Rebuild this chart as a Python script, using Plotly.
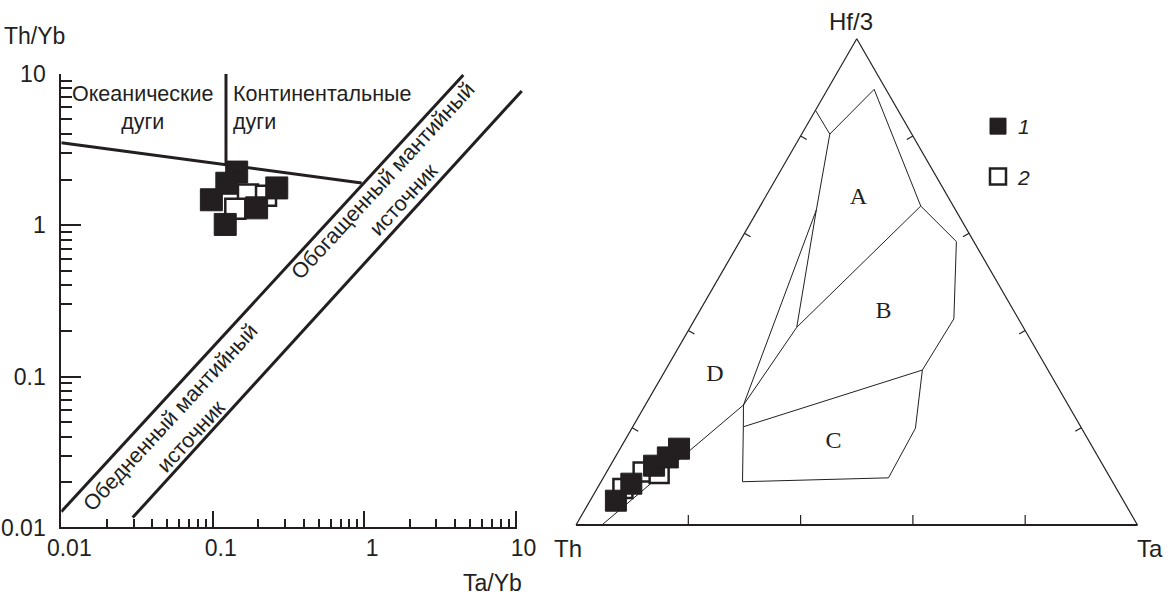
import math
import plotly.graph_objects as go

W, H = 1168, 598
INK = "#231f20"
SANS = "Liberation Sans, Arial, sans-serif"
SERIF = "Liberation Serif, Times New Roman, serif"

# ---------------- Left panel: Th/Yb vs Ta/Yb ----------------
group1_ta_yb = [0.144, 0.124, 0.098, 0.265, 0.195, 0.121]
group1_th_yb = [2.24, 1.89, 1.47, 1.76, 1.30, 1.01]
group2_ta_yb = [0.171, 0.141, 0.225]
group2_th_yb = [1.59, 1.28, 1.56]

arc_divider_x = [0.01, 0.964]
arc_divider_y = [3.5, 1.9]
arc_split_x = [0.1224, 0.1224]
arc_split_y = [10, 2.5]
depleted_x = [0.01, 4.52]
depleted_y = [0.0128, 9.8]
enriched_x = [0.0296, 11.0]
enriched_y = [0.0117, 7.7]

log_ticks = [0.01, 0.1, 1, 10]
log_tick_text = ["0.01", "0.1", "1", "10"]
minor_ticks = [m * d for d in log_ticks[:-1] for m in range(2, 10)]

ocean_label_pos = (0.0346, 5.98)
cont_label_pos = (0.132, 5.98)
depleted_label_pos = (0.0616, 0.0464)
enriched_label_pos = (1.57, 1.70)

# ---------------- Right panel: ternary Hf/3 - Th - Ta ----------------
group1_hf3 = [0.050, 0.085, 0.122, 0.139, 0.157]
group1_th = [0.904, 0.859, 0.800, 0.767, 0.738]
group1_ta = [0.046, 0.056, 0.078, 0.094, 0.105]
group2_hf3 = [0.075, 0.109, 0.106]
group2_th = [0.879, 0.826, 0.799]
group2_ta = [0.046, 0.065, 0.095]

# field boundaries: (Hf/3, Th, Ta)
bnd_edge_hf3 = [0.853, 0.804]
bnd_edge_th = [0.147, 0.146]
bnd_edge_ta = [0.000, 0.050]

bnd_atop_hf3 = [0.896, 0.804]
bnd_atop_th = [0.021, 0.146]
bnd_atop_ta = [0.083, 0.050]

bnd_outer_hf3 = [0.896, 0.656, 0.583, 0.424, 0.319, 0.199, 0.097, 0.089, 0.202, 0.247]
bnd_outer_th = [0.021, 0.058, 0.031, 0.115, 0.224, 0.296, 0.395, 0.659, 0.601, 0.579]
bnd_outer_ta = [0.083, 0.286, 0.386, 0.461, 0.458, 0.505, 0.508, 0.252, 0.197, 0.175]

bnd_inner_hf3 = [0.804, 0.648, 0.407]
bnd_inner_th = [0.146, 0.248, 0.404]
bnd_inner_ta = [0.050, 0.104, 0.190]

bnd_dleft_hf3 = [0.648, 0.247]
bnd_dleft_th = [0.248, 0.579]
bnd_dleft_ta = [0.104, 0.175]

bnd_ab_hf3 = [0.656, 0.407, 0.247, 0.000]
bnd_ab_th = [0.058, 0.404, 0.579, 0.954]
bnd_ab_ta = [0.286, 0.190, 0.175, 0.046]

bnd_bc_hf3 = [0.202, 0.319]
bnd_bc_th = [0.601, 0.224]
bnd_bc_ta = [0.197, 0.458]

field_names = ["A", "B", "C", "D"]
field_hf3 = [0.672, 0.439, 0.171, 0.309]
field_th = [0.161, 0.233, 0.456, 0.598]
field_ta = [0.167, 0.328, 0.373, 0.093]

ternary_ticks = [0.2, 0.4, 0.6, 0.8]


def fx(px):
    """page pixel x -> paper fraction"""
    return px / W


def fy(py):
    """page pixel y -> paper fraction"""
    return 1 - py / H


fig = go.Figure()

# ---- left panel traces ----
line_style = dict(color=INK, width=3)
for xs, ys in [(arc_divider_x, arc_divider_y), (arc_split_x, arc_split_y),
               (depleted_x, depleted_y), (enriched_x, enriched_y)]:
    fig.add_trace(go.Scatter(x=xs, y=ys, mode="lines", line=line_style,
                             showlegend=False, hoverinfo="skip"))
# x-axis baseline from 0.01 to 10
fig.add_trace(go.Scatter(x=[log_ticks[0], log_ticks[-1]], y=[log_ticks[0], log_ticks[0]],
                         mode="lines", line=dict(color=INK, width=2),
                         showlegend=False, hoverinfo="skip"))
fig.add_trace(go.Scatter(x=group2_ta_yb, y=group2_th_yb, mode="markers",
                         marker=dict(symbol="square", size=20, color="white",
                                     line=dict(color=INK, width=2.5)),
                         showlegend=False))
fig.add_trace(go.Scatter(x=group1_ta_yb, y=group1_th_yb, mode="markers",
                         marker=dict(symbol="square", size=22, color=INK,
                                     line=dict(color=INK, width=1)),
                         showlegend=False))

# ---- ternary traces ----
thin = dict(color=INK, width=1)
for a, b, c in [(bnd_edge_hf3, bnd_edge_th, bnd_edge_ta),
                (bnd_atop_hf3, bnd_atop_th, bnd_atop_ta),
                (bnd_outer_hf3, bnd_outer_th, bnd_outer_ta),
                (bnd_inner_hf3, bnd_inner_th, bnd_inner_ta),
                (bnd_dleft_hf3, bnd_dleft_th, bnd_dleft_ta),
                (bnd_ab_hf3, bnd_ab_th, bnd_ab_ta),
                (bnd_bc_hf3, bnd_bc_th, bnd_bc_ta)]:
    fig.add_trace(go.Scatterternary(a=a, b=b, c=c, mode="lines", line=thin,
                                    showlegend=False, hoverinfo="skip"))

# inward tick marks, perpendicular to each edge
tri_height_px = 486.2
d_bot = 10 / tri_height_px
d_side = 7 / tri_height_px
ta_, tb_, tc_ = [], [], []
for t in ternary_ticks:
    # bottom edge (Hf/3 = 0)
    ta_ += [0, d_bot, None]; tb_ += [1 - t, 1 - t - d_bot / 2, None]; tc_ += [t, t - d_bot / 2, None]
    # left edge (Ta = 0)
    ta_ += [t, t - d_side / 2, None]; tb_ += [1 - t, 1 - t - d_side / 2, None]; tc_ += [0, d_side, None]
    # right edge (Th = 0)
    ta_ += [t, t - d_side / 2, None]; tb_ += [0, d_side, None]; tc_ += [1 - t, 1 - t - d_side / 2, None]
fig.add_trace(go.Scatterternary(a=ta_, b=tb_, c=tc_, mode="lines",
                                line=dict(color=INK, width=1.2),
                                showlegend=False, hoverinfo="skip"))

fig.add_trace(go.Scatterternary(a=field_hf3, b=field_th, c=field_ta, mode="text",
                                text=field_names,
                                textfont=dict(family=SERIF, size=24, color=INK),
                                showlegend=False, hoverinfo="skip"))
fig.add_trace(go.Scatterternary(a=group2_hf3, b=group2_th, c=group2_ta, mode="markers",
                                name="2", legendgroup="g2", legendrank=2,
                                marker=dict(symbol="square", size=19, color="white",
                                            line=dict(color=INK, width=2.5))))
fig.add_trace(go.Scatterternary(a=group1_hf3, b=group1_th, c=group1_ta, mode="markers",
                                name="1", legendgroup="g1", legendrank=1,
                                marker=dict(symbol="square", size=21, color=INK,
                                            line=dict(color=INK, width=1))))

px_per_dec = 151.4
x_left_px, y_top_px = 61.3, 73.7
x_range = [-2, 1.05]
y_range = [-2.01, 1]
x_right_px = x_left_px + (x_range[1] - x_range[0]) * px_per_dec
y_bot_px = y_top_px + (y_range[1] - y_range[0]) * px_per_dec

tick_font = dict(family=SANS, size=23, color=INK)


def ternary_axis(lw):
    return dict(showgrid=False, showticklabels=False, ticks="",
                linecolor=INK, linewidth=lw, title=dict(text=""))


def paper_label(text, x, y, size=23):
    return dict(text=text, x=fx(x), y=fy(y), xref="paper", yref="paper",
                showarrow=False, font=dict(family=SANS, size=size, color=INK),
                xanchor="center", yanchor="middle")


def data_label(text, pos, angle=0, xanchor="center", align="center"):
    return dict(text=text, x=math.log10(pos[0]), y=math.log10(pos[1]),
                xref="x", yref="y", showarrow=False, textangle=angle,
                font=dict(family=SANS, size=21.5, color=INK),
                xanchor=xanchor, yanchor="middle", align=align)


fig.update_layout(
    width=W, height=H, autosize=False,
    margin=dict(l=0, r=0, t=0, b=0, autoexpand=False),
    paper_bgcolor="white", plot_bgcolor="white",
    xaxis=dict(type="log", range=x_range,
               domain=[fx(x_left_px), fx(x_right_px)], anchor="y",
               showline=False, showgrid=False, zeroline=False,
               tickmode="array", tickvals=log_ticks, ticktext=log_tick_text,
               ticks="inside", ticklen=18, tickwidth=1.5, tickcolor=INK,
               tickfont=tick_font, ticklabelshift=8, ticklabelstandoff=3,
               minor=dict(tickmode="array", tickvals=minor_ticks, ticks="inside",
                          ticklen=10, tickwidth=1.5, tickcolor=INK, showgrid=False)),
    yaxis=dict(type="log", range=y_range,
               domain=[fy(y_bot_px), fy(y_top_px)], anchor="x",
               showline=True, linecolor=INK, linewidth=2,
               showgrid=False, zeroline=False,
               tickmode="array", tickvals=log_ticks, ticktext=log_tick_text,
               ticks="inside", ticklen=20, tickwidth=1.5, tickcolor=INK,
               tickfont=tick_font, ticklabelstandoff=9,
               minor=dict(tickmode="array", tickvals=minor_ticks, ticks="inside",
                          ticklen=11, tickwidth=1.5, tickcolor=INK, showgrid=False)),
    ternary=dict(domain=dict(x=[fx(576), fx(1137.5)], y=[fy(525), fy(38.8)]),
                 bgcolor="white", sum=1,
                 aaxis=ternary_axis(1.2),
                 baxis=ternary_axis(2),
                 caxis=ternary_axis(1.2)),
    legend=dict(x=fx(978), y=fy(106), xanchor="left", yanchor="top",
                font=dict(family=SANS, size=21, style="italic", color=INK),
                bgcolor="rgba(0,0,0,0)", tracegroupgap=20, traceorder="grouped"),
    annotations=[
        paper_label("Th/Yb", 34, 36),
        paper_label("Ta/Yb", 492, 583),
        paper_label("Hf/3", 851, 22, 24),
        paper_label("Th", 568, 548, 24),
        paper_label("Ta", 1150, 548, 24),
        data_label("Океанические<br>дуги", ocean_label_pos),
        data_label("Континентальные<br>дуги", cont_label_pos, xanchor="left", align="left"),
        data_label("Обедненный мантийный<br>источник", depleted_label_pos, angle=-47.3),
        data_label("Обогащенный мантийный<br>источник", enriched_label_pos, angle=-47.3),
    ],
)

# remove the browser's default 8 px body margin so the figure fills the window
fig.write_html("out.html", config={"displayModeBar": False},
               post_script="document.body.style.margin='0px';")
